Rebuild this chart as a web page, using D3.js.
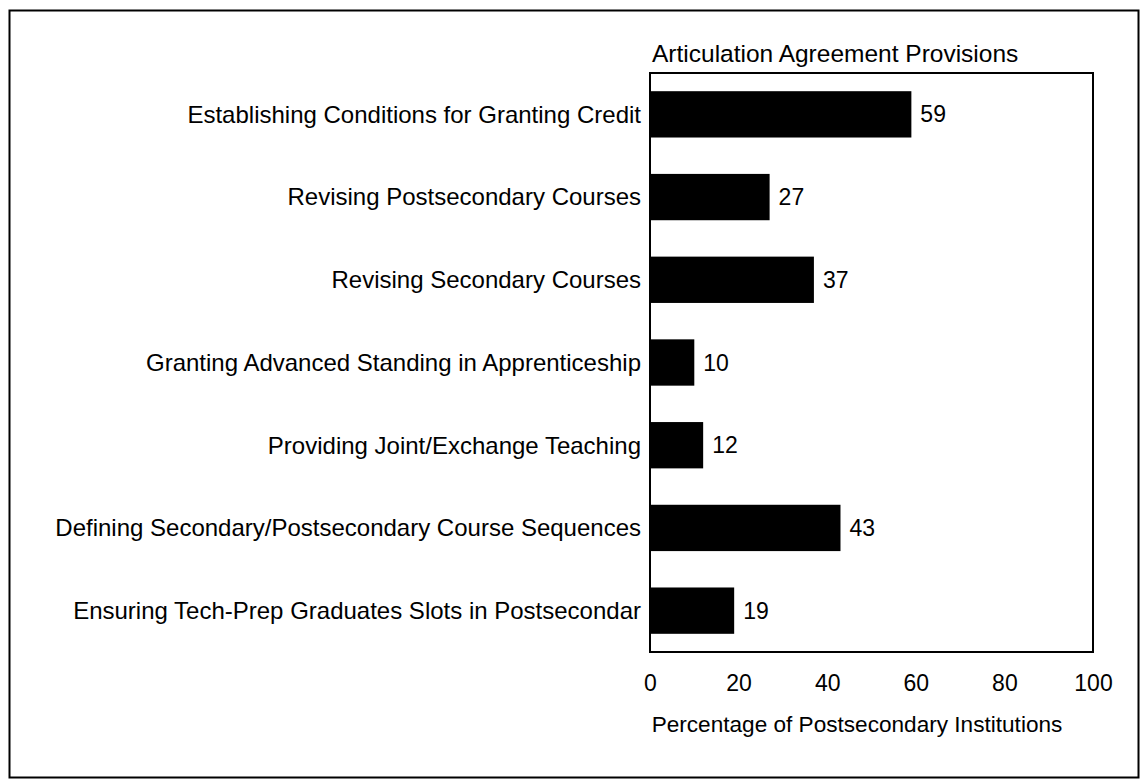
<!DOCTYPE html>
<html><head><meta charset="utf-8">
<script src="https://cdn.jsdelivr.net/npm/d3@7"></script>
<style>body{margin:0;background:#fff}svg{display:block}text{font-family:"Liberation Sans",Arial,sans-serif;fill:#000}</style>
</head><body>
<script>
const categories = [
  "Establishing Conditions for Granting Credit",
  "Revising Postsecondary Courses",
  "Revising Secondary Courses",
  "Granting Advanced Standing in Apprenticeship",
  "Providing Joint/Exchange Teaching",
  "Defining Secondary/Postsecondary Course Sequences",
  "Ensuring Tech-Prep Graduates Slots in Postsecondar"
];
const values = [59, 27, 37, 10, 12, 43, 19];
const xTicks = [0, 20, 40, 60, 80, 100];
const title = "Articulation Agreement Provisions";
const xTitle = "Percentage of Postsecondary Institutions";

const W = 1143, H = 780;
const svg = d3.select("body").append("svg").attr("width", W).attr("height", H);
svg.append("rect").attr("x", 9.5).attr("y", 10.5).attr("width", 1129).attr("height", 767)
  .attr("fill", "none").attr("stroke", "#000").attr("stroke-width", 2);

const L = 650, R = 1093, T = 73, B = 652;
const x = d3.scaleLinear().domain([0, 100]).range([L, R]);
const y = d3.scaleBand().domain(categories).range([T, B]).paddingInner(0.44).paddingOuter(0.22);

svg.append("rect").attr("x", L).attr("y", T).attr("width", R - L).attr("height", B - T)
  .attr("fill", "none").attr("stroke", "#000").attr("stroke-width", 2);

svg.selectAll("rect.bar").data(values).join("rect").attr("class", "bar")
  .attr("x", x(0)).attr("y", (d, i) => y(categories[i]))
  .attr("width", d => x(d) - x(0)).attr("height", y.bandwidth()).attr("fill", "#000");

svg.selectAll("text.val").data(values).join("text").attr("class", "val")
  .attr("x", d => x(d) + 9).attr("y", (d, i) => y(categories[i]) + y.bandwidth() / 2)
  .attr("dy", "0.35em").attr("font-size", 23).text(d => d);

svg.selectAll("text.cat").data(categories).join("text").attr("class", "cat")
  .attr("x", L - 9).attr("y", d => y(d) + y.bandwidth() / 2)
  .attr("dy", "0.35em").attr("text-anchor", "end").attr("font-size", 24).text(d => d);

const ax = svg.append("g").attr("transform", `translate(0,${B})`)
  .call(d3.axisBottom(x).tickValues(xTicks).tickSize(0).tickPadding(23));
ax.select(".domain").remove();
ax.selectAll("text").attr("font-size", 23).style("font-family", '"Liberation Sans",Arial,sans-serif');

svg.append("text").attr("x", 652).attr("y", 62).attr("font-size", 24.5).text(title);
svg.append("text").attr("x", 857).attr("y", 732).attr("text-anchor", "middle")
  .attr("font-size", 22.6).text(xTitle);
</script>
</body></html>
